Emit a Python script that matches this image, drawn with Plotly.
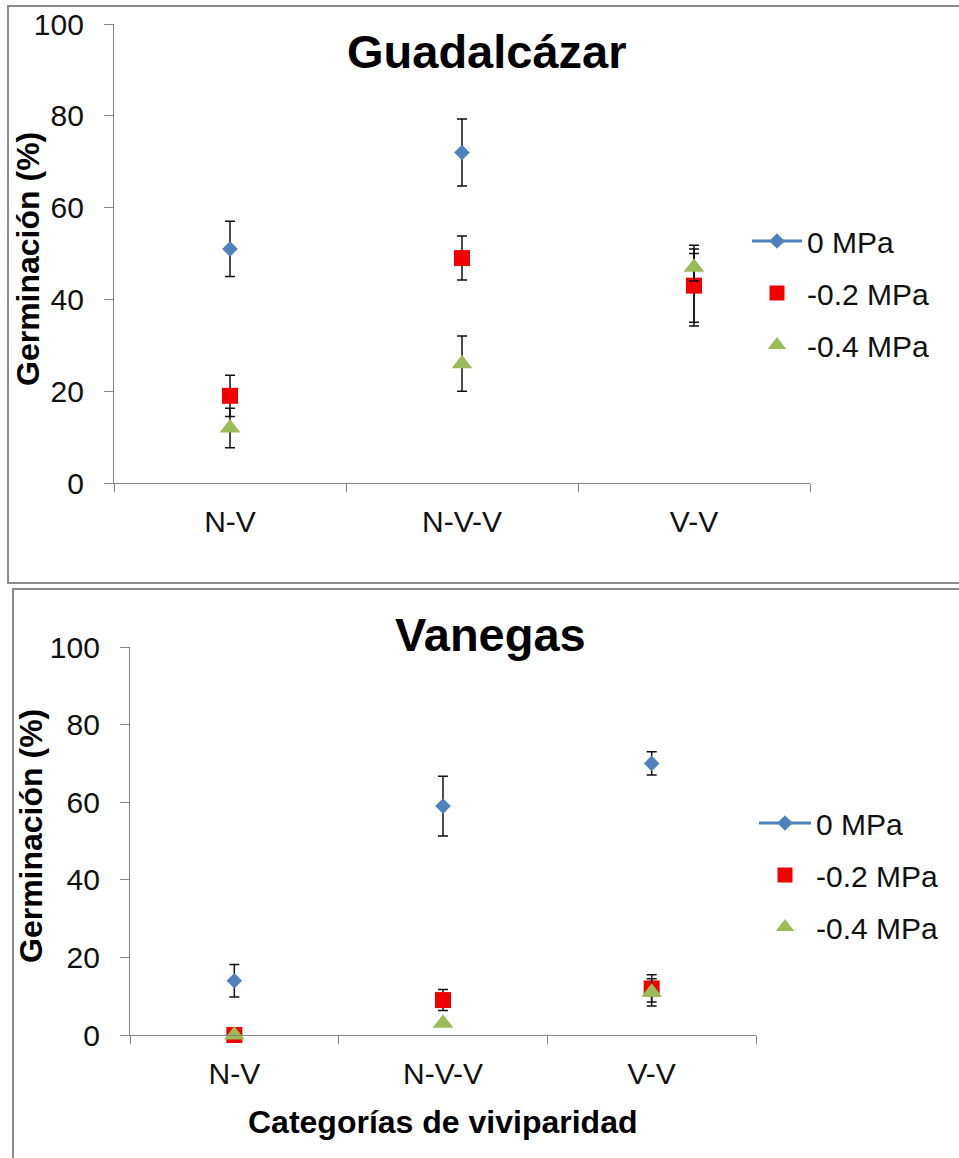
import plotly.graph_objects as go

# ---------------- data ----------------
categories = ["N-V", "N-V-V", "V-V"]
series_names = ["0 MPa", "-0.2 MPa", "-0.4 MPa"]

guad_0 = [51, 72, 43]
guad_0_err = [6.0, 7.3, 8.8]
guad_02 = [19, 49, 43]
guad_02_err = [4.5, 4.8, 8.0]
guad_04 = [12, 26, 47]
guad_04_err = [4.3, 6.0, 3.0]

van_0 = [14, 59, 70]
van_0_err = [4.2, 7.7, 3.0]
van_02 = [0, 9, 12]
van_02_err = [0, 2.7, 3.5]
van_04 = [0, 3, 11]
van_04_err = [0, 0, 3.5]

y_ticks = [0, 20, 40, 60, 80, 100]

# ---------------- layout helpers ----------------
W, H = 959, 1158
def px(x):
    return x / W
def py(y):
    return 1 - y / H

colors = ["#4F81BD", "#F00000", "#9BBB59"]
symbols = ["diamond", "square", "triangle-up"]
sizes = [12, 16, 18]
FONT = "Liberation Sans, Arial, sans-serif"

fig = go.Figure()

panels = [
    dict(vals=[guad_0, guad_02, guad_04], errs=[guad_0_err, guad_02_err, guad_04_err],
         xa="x", ya="y", legend="legend"),
    dict(vals=[van_0, van_02, van_04], errs=[van_0_err, van_02_err, van_04_err],
         xa="x2", ya="y2", legend="legend2"),
]

for p in panels:
    for i in range(3):
        fig.add_trace(go.Scatter(
            x=categories, y=p["vals"][i], xaxis=p["xa"], yaxis=p["ya"],
            mode="markers", name=series_names[i], showlegend=False,
            cliponaxis=False,
            marker=dict(symbol=symbols[i], size=sizes[i], color=colors[i],
                        line=dict(width=0)),
            error_y=dict(type="data", array=p["errs"][i], visible=True,
                         color="#111111", thickness=1.5, width=5),
        ))
    # legend entries
    for i in range(3):
        fig.add_trace(go.Scatter(
            x=[None], y=[None], xaxis=p["xa"], yaxis=p["ya"],
            mode="lines+markers" if i == 0 else "markers",
            name=series_names[i], legend=p["legend"], legendgroup=p["legend"] + str(i),
            marker=dict(symbol=symbols[i], size=[12, 15, 17][i], color=colors[i]),
            line=dict(color=colors[i], width=3),
        ))

axis_common_x = dict(
    type="category", range=[-0.5, 2.5], tickson="boundaries", ticks="outside",
    ticklen=8, tickcolor="#868686", tickwidth=1.3, showline=True,
    linecolor="#868686", linewidth=1.3, showgrid=False, zeroline=False,
    tickfont=dict(family=FONT, size=30, color="#111111"), automargin=False,
    fixedrange=True,
)
axis_common_y = dict(
    range=[0, 100], tickvals=y_ticks, ticks="outside", ticklen=9,
    tickcolor="#868686", tickwidth=1.3, showline=True, linecolor="#868686",
    linewidth=1.3, showgrid=False, zeroline=False,
    tickfont=dict(family=FONT, size=30, color="#111111"), automargin=False,
    ticklabelstandoff=14,
)

fig.update_layout(
    width=W, height=H,
    margin=dict(l=0, r=0, t=0, b=0),
    paper_bgcolor="white", plot_bgcolor="white",
    template="none",
    xaxis=dict(axis_common_x, domain=[px(114), px(810)], anchor="y", ticklabelstandoff=12),
    yaxis=dict(axis_common_y, domain=[py(483), py(24)], anchor="x"),
    xaxis2=dict(axis_common_x, domain=[px(130), px(756)], anchor="y2", ticklabelstandoff=12),
    yaxis2=dict(axis_common_y, domain=[py(1035), py(647)], anchor="x2"),
    legend=dict(x=px(747), y=py(215), xanchor="left", yanchor="top",
                font=dict(family=FONT, size=30, color="#111111"),
                bgcolor="rgba(0,0,0,0)", tracegroupgap=10, itemwidth=50),
    legend2=dict(x=px(754), y=py(797), xanchor="left", yanchor="top",
                 font=dict(family=FONT, size=30, color="#111111"),
                 bgcolor="rgba(0,0,0,0)", tracegroupgap=10, itemwidth=52),
    showlegend=True,
    shapes=[
        dict(type="rect", xref="paper", yref="paper", x0=px(8), x1=px(975),
             y0=py(583), y1=py(6), line=dict(color="#8a8a8a", width=2)),
        dict(type="rect", xref="paper", yref="paper", x0=px(13), x1=px(975),
             y0=py(1175), y1=py(589), line=dict(color="#8a8a8a", width=2)),
    ],
    annotations=[
        dict(text="<b>Guadalcázar</b>", x=px(487), y=py(51), xref="paper", yref="paper",
             xanchor="center", yanchor="middle", showarrow=False,
             font=dict(family=FONT, size=47, color="#000000")),
        dict(text="<b>Vanegas</b>", x=px(490), y=py(634), xref="paper", yref="paper",
             xanchor="center", yanchor="middle", showarrow=False,
             font=dict(family=FONT, size=47, color="#000000")),
        dict(text="<b>Germinación (%)</b>", x=px(28), y=py(259), xref="paper", yref="paper",
             xanchor="center", yanchor="middle", textangle=-90, showarrow=False,
             font=dict(family=FONT, size=32, color="#000000")),
        dict(text="<b>Germinación (%)</b>", x=px(31), y=py(836), xref="paper", yref="paper",
             xanchor="center", yanchor="middle", textangle=-90, showarrow=False,
             font=dict(family=FONT, size=32, color="#000000")),
        dict(text="<b>Categorías de viviparidad</b>", x=px(442), y=py(1122), xref="paper",
             yref="paper", xanchor="center", yanchor="middle", showarrow=False,
             font=dict(family=FONT, size=32, color="#000000")),
    ],
)

fig.write_html("out.html", config={"displayModeBar": False},
               post_script="document.body.style.margin='0';document.body.style.overflow='hidden';")
